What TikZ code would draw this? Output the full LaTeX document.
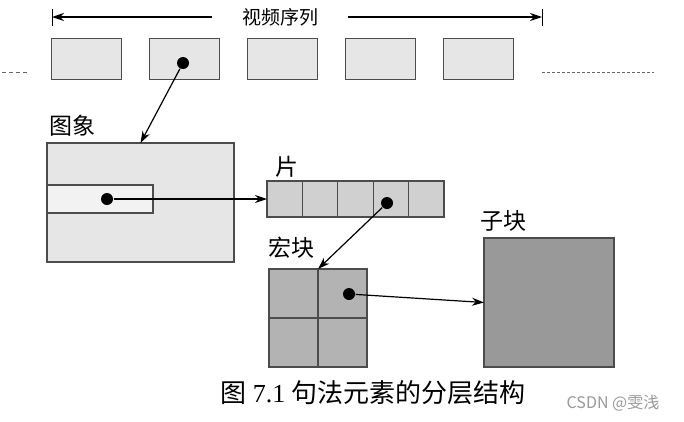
\documentclass[tikz,border=0pt]{standalone}
\usepackage{fontspec}
\setmainfont{Liberation Serif}
\newfontfamily\cjk{Noto Sans CJK SC}
\usetikzlibrary{arrows.meta}
\definecolor{framegray}{HTML}{E6E6E6}
\definecolor{stripgray}{HTML}{F2F2F2}
\definecolor{slicegray}{HTML}{D0D0D0}
\definecolor{mbgray}{HTML}{B3B3B3}
\definecolor{subgray}{HTML}{999999}
\begin{document}
\begin{tikzpicture} [x=1pt, y=-1pt,
    >={Stealth[length=12pt, width=8pt]},
    line width=1.2pt,
    box/.style={rectangle, draw=black!70, line width=1.3pt, inner sep=0pt, outer sep=0pt},
    frame/.style={box, fill=framegray, minimum width=70pt, minimum height=41pt},
    cell/.style={box, fill=slicegray, minimum width=35.4pt, minimum height=36pt},
    mbcell/.style={box, fill=mbgray, minimum size=49pt},
    dot/.style={circle, fill=black, minimum size=12pt, inner sep=0pt},
    lbl/.style={font=\cjk\fontsize{23}{23}\selectfont, inner sep=0pt}]
  \useasboundingbox (0,0) rectangle (684,421);

  % video sequence
  \node[font=\cjk\fontsize{19}{19}\selectfont, inner ysep=0pt, inner xsep=29pt] (seq) at (280,17) {视频序列};
  \coordinate (lt) at (52,17);
  \coordinate (rt) at (542,17);
  \draw[line width=0.9pt] ([yshift=8pt]lt) -- ([yshift=-9pt]lt);
  \draw[line width=0.9pt] ([yshift=8pt]rt) -- ([yshift=-9pt]rt);
  \draw[->] (seq.west) -- (lt);
  \draw[->] (seq.east) -- (rt);

  \foreach \i in {1,...,5}
    \node[frame] (f\i) at ({86.5+98*(\i-1)},59) {};
  \coordinate (la) at (2,72);
  \coordinate (lb) at (27,72);
  \coordinate (ra) at (542,72);
  \coordinate (rb) at (654,72);
  \draw[black!60, line width=0.9pt, dash pattern=on 4pt off 3pt] (la) -- (lb);
  \draw[black!60, line width=0.9pt, dash pattern=on 3pt off 2pt] (ra) -- (rb);
  \node[dot] (d1) at (183,63) {};

  % picture
  \node[lbl] (piclbl) at (72,126) {图象};
  \node[box, fill=framegray, minimum width=187pt, minimum height=119pt] (pic) at (140.5,202.5) {};
  \node[box, fill=stripgray, minimum width=106pt, minimum height=28pt] (strip) at (100,199) {};
  \node[dot] (d2) at (107,199) {};

  % slice
  \node[lbl] (slicelbl) at (287,167) {片};
  \foreach \i in {1,...,5}
    \node[cell] (s\i) at ({267+35.4*(\i-0.5)},199) {};
  \node[dot] (d3) at (387,203) {};

  % macroblock
  \node[lbl] (mblbl) at (291,248) {宏块};
  \node[mbcell] (m1) at (293.5,293.5) {};
  \node[mbcell] (m2) at (342.5,293.5) {};
  \node[mbcell] (m3) at (293.5,342.5) {};
  \node[mbcell] (m4) at (342.5,342.5) {};
  \node[dot] (d4) at (349,294) {};

  % sub-block
  \node[lbl] (sublbl) at (503,221) {子块};
  \node[box, fill=subgray, minimum width=130pt, minimum height=129pt] (sub) at (549,302.5) {};

  \draw[->] (d1) -- (pic.north);
  \draw[->] (d2) -- (s1.west);
  \draw[->] (d3) -- (m1.north east);
  \draw[->] (d4) -- (sub.west);

  \node[font=\fontsize{26}{26}\selectfont, inner sep=0pt] (cap) at (373,393) {{\cjk 图} 7.1 {\cjk 句法元素的分层结构}};
  \node[font=\cjk\fontsize{16}{16}\selectfont, text=black!40, inner sep=0pt] (wm) at (613,403) {CSDN @雯浅};
\end{tikzpicture}
\end{document}
